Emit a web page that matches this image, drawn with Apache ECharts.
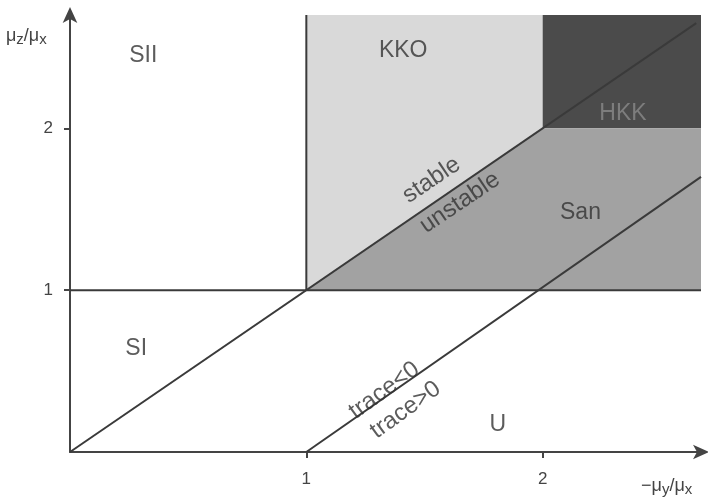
<!DOCTYPE html>
<html>
  <head>
    <meta charset="UTF-8" />
    <title></title>
    <style type="text/css">
      * {
        margin: 0;
        padding: 0;
      }
      #main {
        width: 708px;
        height: 500px;
        background-color: #fff;
      }
    </style>
  </head>
  <body>
    <div id="main"></div>
  </body>
  <script src="https://cdn.jsdelivr.net/npm/echarts@6/dist/echarts.min.js"></script>
  <script type="text/javascript">
    // 坐标范围
    var X_MAX = 2.67
    var Y_MAX = 2.7
    var axisTicks = [1, 2]

    // 区域 (多边形顶点)
    var regionNames = ['KKO', 'HKK', 'San']
    var regionX = [
      [1, 1, 2, 2],
      [2, 2, X_MAX, X_MAX],
      [1, 2, X_MAX, X_MAX]
    ]
    var regionY = [
      [1, Y_MAX, Y_MAX, 2],
      [2, Y_MAX, Y_MAX, 2],
      [1, 2, 2, 1]
    ]
    var regionColors = ['#d9d9d9', '#4b4b4b', '#a2a2a2']

    // 分界线
    var lineX = [
      [0, 2.65],
      [1, X_MAX],
      [0, X_MAX],
      [1, 1]
    ]
    var lineY = [
      [0, 2.65],
      [0, 1.7],
      [1, 1],
      [1, Y_MAX]
    ]

    // 文字标签
    var labelText = ['SII', 'KKO', 'HKK', 'stable', 'unstable', 'San', 'SI', 'trace<0', 'trace>0', 'U']
    var labelX = [0.31, 1.41, 2.34, 1.53, 1.65, 2.16, 0.28, 1.33, 1.42, 1.81]
    var labelY = [2.45, 2.48, 2.09, 1.68, 1.54, 1.48, 0.64, 0.38, 0.26, 0.17]
    var labelRotate = [0, 0, 0, 34, 34, 0, 0, 36, 36, 0]

    var series = []

    series.push({
      type: 'custom',
      silent: true,
      z: 1,
      data: regionNames.map(function (n, i) {
        return [i]
      }),
      renderItem: function (params, api) {
        var i = api.value(0)
        var pts = regionX[i].map(function (x, k) {
          return api.coord([x, regionY[i][k]])
        })
        return {
          type: 'polygon',
          shape: { points: pts },
          style: { fill: regionColors[i] }
        }
      }
    })

    lineX.forEach(function (xs, i) {
      series.push({
        type: 'line',
        silent: true,
        z: 3,
        symbol: 'none',
        data: xs.map(function (x, k) {
          return [x, lineY[i][k]]
        }),
        lineStyle: { color: '#3a3a3a', width: 2 }
      })
    })

    series.push({
      type: 'scatter',
      symbolSize: 0,
      silent: true,
      z: 5,
      data: labelText.map(function (t, i) {
        return {
          value: [labelX[i], labelY[i]],
          label: {
            show: true,
            position: 'inside',
            formatter: t,
            rotate: labelRotate[i],
            color: t === 'HKK' ? '#8a8a8a' : '#333',
            fontSize: labelRotate[i] ? 24 : 23,
            fontFamily: 'Liberation Sans'
          }
        }
      })
    })

    var myCharts = echarts.init(document.getElementById('main'))
    var option = {
      animation: false,
      grid: { left: 70, right: 7, top: 15, bottom: 48 },
      xAxis: {
        type: 'value',
        min: 0,
        max: X_MAX,
        splitLine: { show: false },
        axisLine: {
          lineStyle: { color: '#444', width: 2 },
          symbol: ['none', 'arrow'],
          symbolSize: [11, 16],
          symbolOffset: [0, 8]
        },
        axisTick: { customValues: axisTicks, length: 6, lineStyle: { color: '#444', width: 2 } },
        axisLabel: {
          customValues: axisTicks,
          color: '#444',
          fontSize: 17,
          fontFamily: 'Liberation Sans',
          margin: 19
        }
      },
      yAxis: {
        type: 'value',
        min: 0,
        max: Y_MAX,
        splitLine: { show: false },
        axisLine: {
          lineStyle: { color: '#444', width: 2 },
          symbol: ['none', 'arrow'],
          symbolSize: [11, 16],
          symbolOffset: [0, 8]
        },
        axisTick: { customValues: axisTicks, length: 6, lineStyle: { color: '#444', width: 2 } },
        axisLabel: {
          customValues: axisTicks,
          color: '#444',
          fontSize: 17,
          fontFamily: 'Liberation Sans',
          margin: 17
        }
      },
      graphic: [
        {
          type: 'text',
          left: 6,
          top: 27,
          style: {
            text: '{a|μ}{b|z}{a|/μ}{b|x}',
            rich: {
              a: { fontSize: 18, fontFamily: 'Liberation Sans', fill: '#444' },
              b: { fontSize: 15, fontFamily: 'Liberation Sans', fill: '#444', padding: [8, 0, 0, 0] }
            }
          }
        },
        {
          type: 'text',
          left: 641,
          top: 477,
          style: {
            text: '{a|−μ}{b|y}{a|/μ}{b|x}',
            rich: {
              a: { fontSize: 18, fontFamily: 'Liberation Sans', fill: '#444' },
              b: { fontSize: 15, fontFamily: 'Liberation Sans', fill: '#444', padding: [8, 0, 0, 0] }
            }
          }
        }
      ],
      series: series
    }
    myCharts.setOption(option)
  </script>
</html>
